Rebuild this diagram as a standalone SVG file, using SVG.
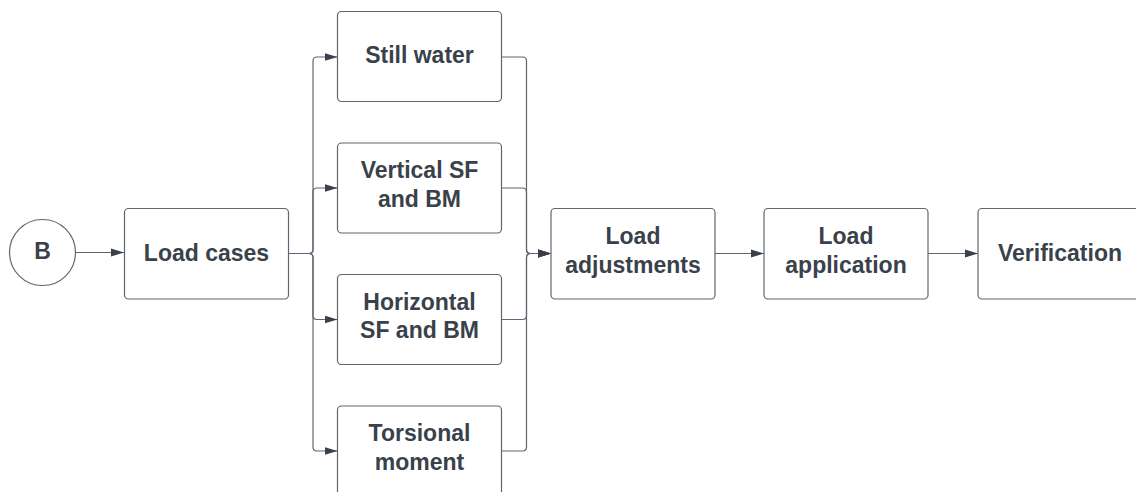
<svg xmlns="http://www.w3.org/2000/svg" width="1136" height="492" viewBox="0 0 1136 492">
<defs>
<marker id="ah" markerUnits="userSpaceOnUse" markerWidth="14" markerHeight="10" refX="13" refY="5" orient="auto">
<path d="M0,1 L13,5 L0,9 Z" fill="#3a414a"/>
</marker>
<style>
.box{fill:#ffffff;stroke:#5f6671;stroke-width:1.2}
.lbl{font-family:"Liberation Sans",Arial,sans-serif;font-weight:bold;font-size:23px;fill:#39414b;text-anchor:middle}
.con{fill:none;stroke:#5f6671;stroke-width:1.2}
</style>
</defs>
<rect width="1136" height="492" fill="#ffffff"/>
<g id="connectors">
<path class="con" d="M75.5,252.5 H124" marker-end="url(#ah)"/>
<path class="con" d="M288.5,253.5 H309 Q313,253.5 313,249.5 V61 Q313,57 317,57 H337.5" marker-end="url(#ah)"/>
<path class="con" d="M288.5,253.5 H309 Q313,253.5 313,249.5 V192 Q313,188 317,188 H337.5" marker-end="url(#ah)"/>
<path class="con" d="M288.5,253.5 H309 Q313,253.5 313,257.5 V315.5 Q313,319.5 317,319.5 H337.5" marker-end="url(#ah)"/>
<path class="con" d="M288.5,253.5 H309 Q313,253.5 313,257.5 V447 Q313,451 317,451 H337.5" marker-end="url(#ah)"/>
<path class="con" d="M501.5,57 H522.5 Q526.5,57 526.5,61 V249.5 Q526.5,253.5 530.5,253.5 H551" marker-end="url(#ah)"/>
<path class="con" d="M501.5,188 H522.5 Q526.5,188 526.5,192 V249.5 Q526.5,253.5 530.5,253.5 H551" marker-end="url(#ah)"/>
<path class="con" d="M501.5,319.5 H522.5 Q526.5,319.5 526.5,315.5 V257.5 Q526.5,253.5 530.5,253.5 H551" marker-end="url(#ah)"/>
<path class="con" d="M501.5,451 H522.5 Q526.5,451 526.5,447 V257.5 Q526.5,253.5 530.5,253.5 H551" marker-end="url(#ah)"/>
<path class="con" d="M715,253.5 H764" marker-end="url(#ah)"/>
<path class="con" d="M928,253.5 H978" marker-end="url(#ah)"/>
</g>
<g id="node-b">
<circle cx="42.5" cy="252.5" r="33" fill="#ffffff" stroke="#5f6671" stroke-width="1.2"/>
<text class="lbl" x="42.5" y="258.5">B</text>
</g>
<g id="node-load-cases">
<rect class="box" x="124.5" y="208.5" width="164" height="90.5" rx="4"/>
<text class="lbl" x="206.5" y="260.5">Load cases</text>
</g>
<g id="node-still-water">
<rect class="box" x="337.5" y="11.5" width="164" height="90" rx="4"/>
<text class="lbl" x="419.5" y="63">Still water</text>
</g>
<g id="node-vertical">
<rect class="box" x="337.5" y="143" width="164" height="90" rx="4"/>
<text class="lbl" x="419.5" y="177.5">Vertical SF</text>
<text class="lbl" x="419.5" y="206.5">and BM</text>
</g>
<g id="node-horizontal">
<rect class="box" x="337.5" y="274.5" width="164" height="90" rx="4"/>
<text class="lbl" x="419.5" y="309.5">Horizontal</text>
<text class="lbl" x="419.5" y="338">SF and BM</text>
</g>
<g id="node-torsional">
<rect class="box" x="337.5" y="406" width="164" height="90" rx="4"/>
<text class="lbl" x="419.5" y="441">Torsional</text>
<text class="lbl" x="419.5" y="469.5">moment</text>
</g>
<g id="node-load-adjustments">
<rect class="box" x="551" y="208.5" width="164" height="90.5" rx="4"/>
<text class="lbl" x="633" y="244">Load</text>
<text class="lbl" x="633" y="272.5">adjustments</text>
</g>
<g id="node-load-application">
<rect class="box" x="764" y="208.5" width="164" height="90.5" rx="4"/>
<text class="lbl" x="846" y="244">Load</text>
<text class="lbl" x="846" y="272.5">application</text>
</g>
<g id="node-verification">
<rect class="box" x="978" y="208.5" width="164" height="90.5" rx="4"/>
<text class="lbl" x="1060" y="260.5">Verification</text>
</g>
</svg>
